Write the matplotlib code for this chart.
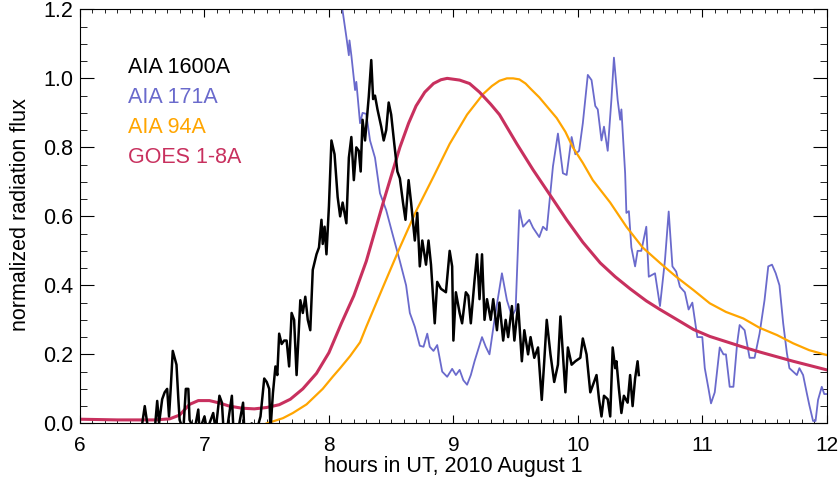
import numpy as np
import matplotlib.pyplot as plt
from matplotlib.ticker import MultipleLocator, FormatStrFormatter

plt.rcParams['font.family'] = ['Liberation Sans', 'DejaVu Sans']
plt.rcParams['font.size'] = 15.5

# AIA 1600A (black, noisy)
t1600 = [6.50, 6.52, 6.54, 6.60, 6.62, 6.635, 6.66, 6.68, 6.70, 6.715, 6.73, 6.745, 6.76, 6.775,
         6.79, 6.80, 6.83, 6.85, 6.87, 6.88, 6.92, 6.95, 6.96, 7.00, 7.02, 7.07, 7.09, 7.12, 7.14,
         7.15, 7.18, 7.22, 7.23, 7.27, 7.31, 7.32, 7.38, 7.42, 7.45, 7.48, 7.50, 7.52, 7.53, 7.55,
         7.57, 7.585, 7.60, 7.62, 7.64, 7.66, 7.68, 7.70, 7.72, 7.74, 7.77, 7.79, 7.81, 7.83, 7.85,
         7.87, 7.90, 7.92, 7.94, 7.95, 7.965, 7.98, 8.00, 8.02, 8.045, 8.07, 8.09, 8.11, 8.14, 8.16,
         8.18, 8.20, 8.22, 8.24, 8.255, 8.27, 8.29, 8.32, 8.34, 8.355, 8.37, 8.39, 8.42, 8.44, 8.46,
         8.48, 8.50, 8.525, 8.55, 8.57, 8.595, 8.615, 8.64, 8.66, 8.69, 8.71, 8.73, 8.75, 8.78, 8.80,
         8.82, 8.85, 8.87, 8.90, 8.94, 8.97, 8.99, 9.00, 9.02, 9.05, 9.07, 9.10, 9.12, 9.14, 9.17,
         9.19, 9.21, 9.23, 9.25, 9.27, 9.30, 9.32, 9.35, 9.37, 9.40, 9.42, 9.44, 9.47, 9.49, 9.52,
         9.55, 9.57, 9.60, 9.62, 9.65, 9.68, 9.71, 9.73, 9.75, 9.78, 9.81, 9.84, 9.86, 9.88, 9.90,
         9.92, 9.95, 9.98, 10.02, 10.04, 10.07, 10.10, 10.12, 10.15, 10.17, 10.19, 10.21, 10.24,
         10.26, 10.28, 10.30, 10.31, 10.33, 10.35, 10.37, 10.40, 10.42, 10.44, 10.46, 10.48, 10.49]
f1600 = [0.0, 0.05, 0.0, -0.02, 0.065, 0.0, 0.07, 0.09, 0.10, 0.02, 0.11, 0.21, 0.19, 0.17,
         0.07, 0.01, -0.02, 0.10, 0.10, 0.01, -0.02, 0.04, -0.02, 0.02, -0.02, 0.03, -0.02, 0.08, 0.06,
         0.0, -0.02, 0.08, 0.0, -0.02, 0.06, -0.02, 0.0, -0.02, 0.02, 0.13, 0.12, 0.10, -0.02, 0.088,
         0.165, 0.14, 0.26, 0.23, 0.24, 0.24, 0.165, 0.32, 0.30, 0.14, 0.357, 0.32, 0.367, 0.30, 0.27,
         0.445, 0.49, 0.51, 0.59, 0.52, 0.57, 0.49, 0.63, 0.82, 0.78, 0.656, 0.60, 0.64, 0.58, 0.77,
         0.83, 0.705, 0.80, 0.79, 0.73, 0.88, 0.82, 0.947, 1.053, 0.94, 0.95, 0.91, 0.86, 0.82, 0.85,
         0.93, 0.895, 0.81, 0.73, 0.71, 0.64, 0.59, 0.705, 0.64, 0.53, 0.61, 0.455, 0.53, 0.46, 0.53,
         0.46, 0.29, 0.41, 0.39, 0.38, 0.50, 0.455, 0.24, 0.38, 0.32, 0.29, 0.38, 0.37, 0.29, 0.415,
         0.49, 0.36, 0.49, 0.30, 0.36, 0.30, 0.36, 0.27, 0.35, 0.24, 0.30, 0.25, 0.34, 0.24, 0.345,
         0.18, 0.27, 0.20, 0.25, 0.19, 0.22, 0.068, 0.18, 0.30, 0.20, 0.12, 0.17, 0.31, 0.20, 0.09,
         0.22, 0.17, 0.18, 0.19, 0.246, 0.20, 0.09, 0.11, 0.14, 0.07, 0.02, 0.08, 0.07,
         0.02, 0.22, 0.16, 0.18, 0.10, 0.03, 0.08, 0.06, 0.14, 0.05, 0.13, 0.18, 0.14]

# AIA 171A (blue)
t171 = [8.10, 8.14, 8.16, 8.165, 8.18, 8.21, 8.22, 8.25, 8.27, 8.30, 8.33, 8.37, 8.41, 8.46, 8.51,
        8.57, 8.62, 8.65, 8.69, 8.73, 8.76, 8.79, 8.81, 8.84, 8.87, 8.91, 8.95, 8.99, 9.02, 9.05,
        9.08, 9.11, 9.14, 9.17, 9.23, 9.26, 9.29, 9.33, 9.39, 9.43, 9.47, 9.50, 9.53, 9.56, 9.61,
        9.64, 9.69, 9.72, 9.75, 9.80, 9.84, 9.88, 9.91, 9.95, 9.98, 10.01, 10.04, 10.08, 10.11,
        10.14, 10.16, 10.19, 10.21, 10.24, 10.27, 10.29, 10.32, 10.34, 10.35, 10.38, 10.39, 10.41,
        10.43, 10.46, 10.48, 10.51, 10.55, 10.57, 10.62, 10.66, 10.70, 10.73, 10.76, 10.79, 10.82,
        10.86, 10.89, 10.92, 10.96, 11.00, 11.02, 11.05, 11.07, 11.10, 11.14, 11.17, 11.19, 11.22,
        11.25, 11.28, 11.30, 11.34, 11.38, 11.42, 11.46, 11.50, 11.53, 11.56, 11.59, 11.62, 11.65,
        11.68, 11.70, 11.76, 11.78, 11.81, 11.84, 11.86, 11.89, 11.91, 11.93, 11.96, 11.98, 12.0]
f171 = [1.22, 1.12, 1.067, 1.11, 1.067, 0.966, 0.99, 0.87, 0.90, 0.897, 0.82, 0.77, 0.667, 0.618, 0.55,
        0.47, 0.40, 0.32, 0.28, 0.225, 0.222, 0.26, 0.222, 0.21, 0.227, 0.15, 0.135, 0.158, 0.14, 0.155,
        0.125, 0.112, 0.14, 0.18, 0.25, 0.222, 0.2, 0.30, 0.435, 0.357, 0.31, 0.33, 0.618, 0.57, 0.59,
        0.567, 0.54, 0.57, 0.56, 0.745, 0.84, 0.725, 0.72, 0.83, 0.78, 0.79, 0.87, 1.01, 0.995,
        0.92, 0.91, 0.82, 0.86, 0.79, 0.94, 1.06, 0.937, 0.88, 0.91, 0.725, 0.61, 0.615,
        0.51, 0.455, 0.50, 0.50, 0.57, 0.425, 0.435, 0.34, 0.473, 0.614, 0.455, 0.44, 0.396,
        0.38, 0.33, 0.35, 0.25, 0.25, 0.16, 0.10, 0.058, 0.09, 0.22, 0.20, 0.20, 0.106,
        0.106, 0.232, 0.285, 0.27, 0.19, 0.19, 0.26, 0.357, 0.455, 0.46, 0.435, 0.40, 0.29,
        0.203, 0.16, 0.14, 0.16, 0.14, 0.087, 0.053, 0.007, 0.007, 0.068, 0.106, 0.085, 0.085]

# AIA 94A (orange)
t94 = [7.50, 7.63, 7.71, 7.82, 7.95, 8.03, 8.09, 8.17, 8.25, 8.30, 8.44, 8.57, 8.70, 8.84, 8.97,
       9.11, 9.24, 9.31, 9.37, 9.43, 9.48, 9.53, 9.58, 9.62, 9.69, 9.76, 9.83, 9.90, 9.96, 10.04,
       10.12, 10.26, 10.39, 10.52, 10.66, 10.79, 10.93, 11.06, 11.19, 11.33, 11.46, 11.60, 11.73,
       11.86, 12.0]
f94 = [0.0, 0.015, 0.03, 0.055, 0.10, 0.135, 0.16, 0.195, 0.235, 0.28, 0.40, 0.51, 0.615, 0.715, 0.81,
       0.895, 0.955, 0.978, 0.993, 1.0, 1.0, 0.997, 0.985, 0.97, 0.945, 0.915, 0.885, 0.845, 0.80,
       0.755, 0.705, 0.64, 0.57, 0.51, 0.465, 0.425, 0.386, 0.348, 0.323, 0.304, 0.277, 0.256, 0.232,
       0.212, 0.198]

# GOES 1-8A (crimson)
tgoes = [6.0, 6.3, 6.6, 6.72, 6.80, 6.88, 6.95, 7.04, 7.12, 7.20, 7.30, 7.40, 7.50, 7.60, 7.69,
         7.79, 7.90, 8.00, 8.10, 8.20, 8.30, 8.44, 8.57, 8.64, 8.70, 8.77, 8.84, 8.90, 8.95, 9.05,
         9.13, 9.21, 9.30, 9.37, 9.51, 9.64, 9.78, 9.91, 10.04, 10.18, 10.30, 10.42, 10.55, 10.66,
         10.80, 10.93, 11.06, 11.19, 11.32, 11.46, 11.60, 11.73, 11.86, 12.0]
fgoes = [0.012, 0.010, 0.010, 0.013, 0.024, 0.055, 0.066, 0.066, 0.059, 0.050, 0.044, 0.042, 0.046,
         0.054, 0.07, 0.10, 0.145, 0.205, 0.29, 0.37, 0.47, 0.645, 0.80, 0.87, 0.92, 0.96, 0.985,
         0.996, 1.0, 0.995, 0.985, 0.96, 0.925, 0.895, 0.81, 0.735, 0.66, 0.59, 0.525, 0.465, 0.425,
         0.39, 0.355, 0.33, 0.30, 0.272, 0.252, 0.237, 0.222, 0.207, 0.193, 0.18, 0.168, 0.155]

c_blue = '#6a6acc'
c_orange = '#ffa500'
c_goes = '#c8305e'

fig = plt.figure(figsize=(8.39, 4.8), dpi=100)
ax = fig.add_axes([0.0954, 0.118, 0.890, 0.8625])

ax.plot(t171, f171, color=c_blue, lw=1.3)
ax.plot(t94, f94, color=c_orange, lw=1.6)
ax.plot(tgoes, fgoes, color=c_goes, lw=2.2)
ax.plot(t1600, f1600, color='black', lw=1.8)

ax.set_xlim(6, 12)
ax.set_ylim(0, 1.2)
ax.xaxis.set_major_locator(MultipleLocator(1))
ax.xaxis.set_minor_locator(MultipleLocator(0.1))
ax.yaxis.set_major_locator(MultipleLocator(0.2))
ax.yaxis.set_minor_locator(MultipleLocator(0.05))
ax.yaxis.set_major_formatter(FormatStrFormatter('%.1f'))
ax.tick_params(axis='both', which='both', direction='in', top=True, right=True)
ax.tick_params(axis='x', which='major', length=5.5, pad=9, labelsize=15)
ax.tick_params(axis='x', which='minor', length=3)
ax.tick_params(axis='y', which='major', length=10, pad=5, labelsize=15.5)
ax.tick_params(axis='y', which='minor', length=5)

fig.text(0.5405, 8 / 480, 'hours in UT, 2010 August 1', fontsize=15.5,
         ha='center', va='baseline')
fig.text(21 / 839, 1 - 215 / 480, 'normalized radiation flux', fontsize=15.5,
         rotation=90, ha='center', va='center')

labels = ['AIA 1600A', 'AIA 171A', 'AIA 94A', 'GOES 1-8A']
lcolors = ['black', c_blue, c_orange, c_goes]
ly = [72.7, 102.7, 132.7, 162.7]
for lab, col, y in zip(labels, lcolors, ly):
    fig.text(128 / 839, 1 - y / 480, lab, color=col, fontsize=15.5, va='baseline', ha='left')

fig.savefig('out.png', dpi=100)
